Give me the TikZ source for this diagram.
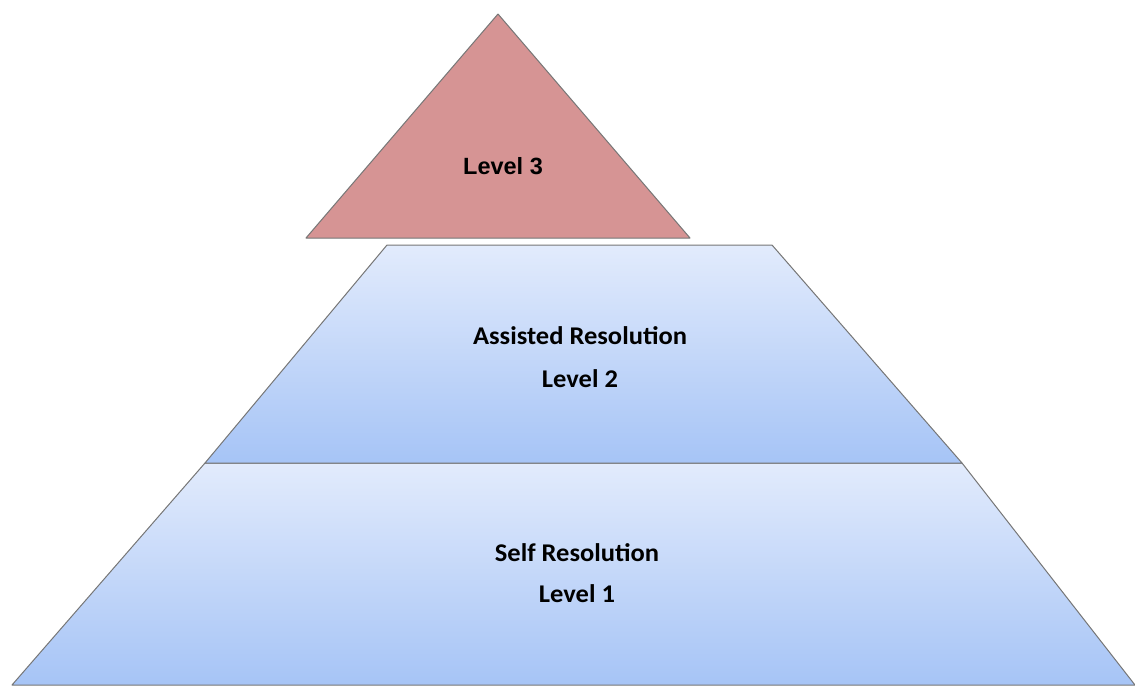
\documentclass[tikz,border=0pt]{standalone}
\usepackage{fontspec}
\setmainfont{Carlito}
\newfontfamily\arialfont{Liberation Sans}
\definecolor{pinkfill}{RGB}{214,148,148}
\definecolor{edgegray}{RGB}{118,118,118}
\definecolor{bluetop}{RGB}{226,235,252}
\definecolor{bluebot}{RGB}{166,196,246}
\tikzset{
  tier/.style={draw=edgegray, line width=1pt, top color=bluetop, bottom color=bluebot, line join=round},
  apex/.style={draw=edgegray, line width=1pt, fill=pinkfill, line join=round},
  lbl/.style={font=\bfseries\fontsize{25.5}{30}\selectfont, align=center, text=black, inner sep=0pt, xscale=1.04},
  lbltop/.style={font=\arialfont\bfseries\fontsize{23.5}{28}\selectfont, text=black, inner sep=0pt}
}
\begin{document}
\begin{tikzpicture}[x=1pt,y=-1pt]
\useasboundingbox (0,0) rectangle (1135,686);
% bottom tier
\path[tier] (205,463) -- (962,463) -- (1135,685) -- (12,685) -- cycle;
% middle tier
\path[tier] (387,245) -- (772,245) -- (962,463) -- (205,463) -- cycle;
% top triangle
\path[apex] (498,14) -- (690,238) -- (306,238) -- cycle;
\node[lbltop] (l3) at (503,166) {Level 3};
\node[lbl] (a2) at (580,336) {Assisted Resolution};
\node[lbl] (l2) at (580,379) {Level 2};
\node[lbl] (s1) at (577,553) {Self Resolution};
\node[lbl] (l1) at (577,594) {Level 1};
\end{tikzpicture}
\end{document}
